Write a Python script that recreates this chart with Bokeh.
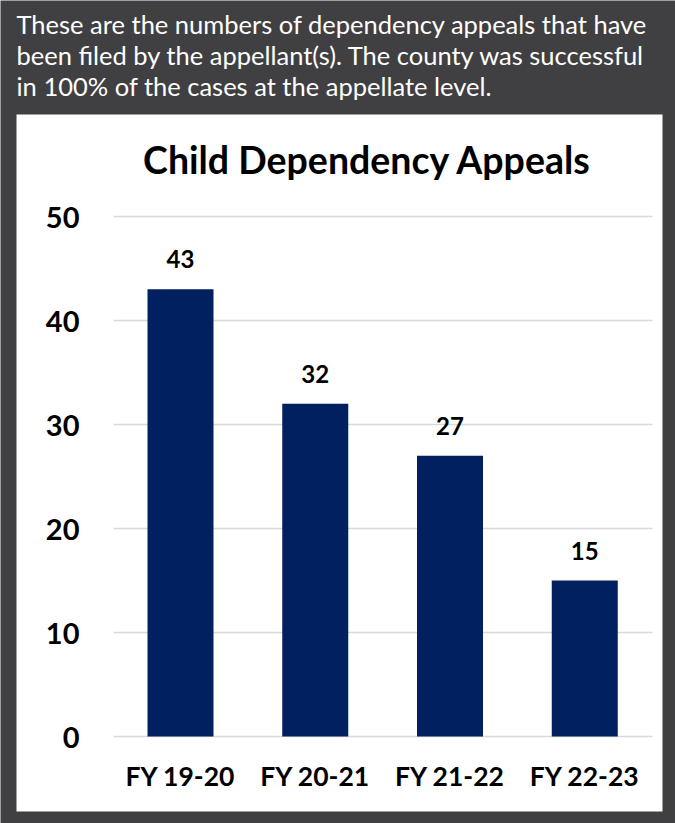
from bokeh.plotting import figure
from bokeh.models import ColumnDataSource, BoxAnnotation, Range1d
from bokeh.core.properties import value
from bokeh.embed import file_html
from bokeh.resources import INLINE

# ---------------- data ----------------
categories = ["FY 19-20", "FY 20-21", "FY 21-22", "FY 22-23"]
appeals = [43, 32, 27, 15]
y_ticks = [0, 10, 20, 30, 40, 50]
y_tick_labels = ["0", "10", "20", "30", "40", "50"]
chart_title = "Child Dependency Appeals"
header_lines = [
    "These are the numbers of dependency appeals that have",
    "been filed by  the appellant(s).  The county was successful",
    "in 100% of the cases at the appellate level.",
]

# ---------------- layout (page pixels) ----------------
W, H = 675, 823
ORIGIN = 0
CAT0_PX = 180.0      # page x of first category centre
STEP_PX = 134.75     # page px between categories
ZERO_PX = 736.0      # page y of value 0
UNIT_PX = 10.4       # page px per unit of value

DARK = "#404042"
NAVY = "#002060"
GRID = "#d9d9d9"
FONT = "Lato"


def dx(px):
    return (px - CAT0_PX) / STEP_PX


def dy(py):
    return (ZERO_PX - py) / UNIT_PX


p = figure(
    width=W, height=H,
    x_range=Range1d(dx(ORIGIN), dx(ORIGIN + W)),
    y_range=Range1d(dy(ORIGIN + H), dy(ORIGIN)),
    output_backend="svg", toolbar_location=None,
    x_axis_location=None, y_axis_location=None,
    min_border=0, outline_line_color=None,
    background_fill_color=DARK, border_fill_color=DARK,
)
p.xgrid.visible = False
p.ygrid.visible = False

# white chart panel
p.add_layout(BoxAnnotation(left=dx(16), right=dx(662), top=dy(114), bottom=dy(811),
                           fill_color="white", fill_alpha=1.0, line_color=None,
                           level="underlay"))

idx = list(range(len(categories)))

# gridlines at the tick values
grid_src = ColumnDataSource(dict(y=y_ticks, x0=[dx(113)] * len(y_ticks), x1=[dx(652)] * len(y_ticks)))
p.segment(x0="x0", x1="x1", y0="y", y1="y", source=grid_src, line_color=GRID, line_width=1.5)

# bars
bar_src = ColumnDataSource(dict(x=idx, top=appeals, label=[str(v) for v in appeals], cat=categories))
p.vbar(x="x", top="top", bottom=0, width=66 / STEP_PX, source=bar_src,
       fill_color=NAVY, line_color=None)

# value labels
p.text(x="x", y="top", text="label", source=bar_src, text_align="center",
       text_baseline="middle", y_offset=-30, text_color="black",
       text_font=value(FONT), text_font_style="bold", text_font_size="24px")

# category labels
p.text(x="x", y=0, text="cat", source=bar_src, text_align="center",
       text_baseline="middle", y_offset=39, text_color="black",
       text_font=value(FONT), text_font_style="bold", text_font_size="26.5px")

# y tick labels
tick_src = ColumnDataSource(dict(y=y_ticks, t=y_tick_labels, x=[dx(79)] * len(y_ticks)))
p.text(x="x", y="y", text="t", source=tick_src, text_align="right",
       text_baseline="middle", y_offset=0.5, text_color="black",
       text_font=value(FONT), text_font_style="bold", text_font_size="29px")

# chart title
p.text(x=[dx(367)], y=[dy(158.5)], text=[chart_title], text_align="center",
       text_baseline="middle", text_color="black",
       text_font=value(FONT), text_font_style="bold", text_font_size="37.5px")

# header note
hdr_src = ColumnDataSource(dict(t=header_lines, y=[dy(23), dy(54), dy(85)], x=[dx(16)] * 3))
p.text(x="x", y="y", text="t", source=hdr_src, text_align="left",
       text_baseline="middle", text_color="white",
       text_font=value(FONT), text_font_style="normal", text_font_size="25.5px")

open("out.html", "w").write(file_html(p, INLINE))
